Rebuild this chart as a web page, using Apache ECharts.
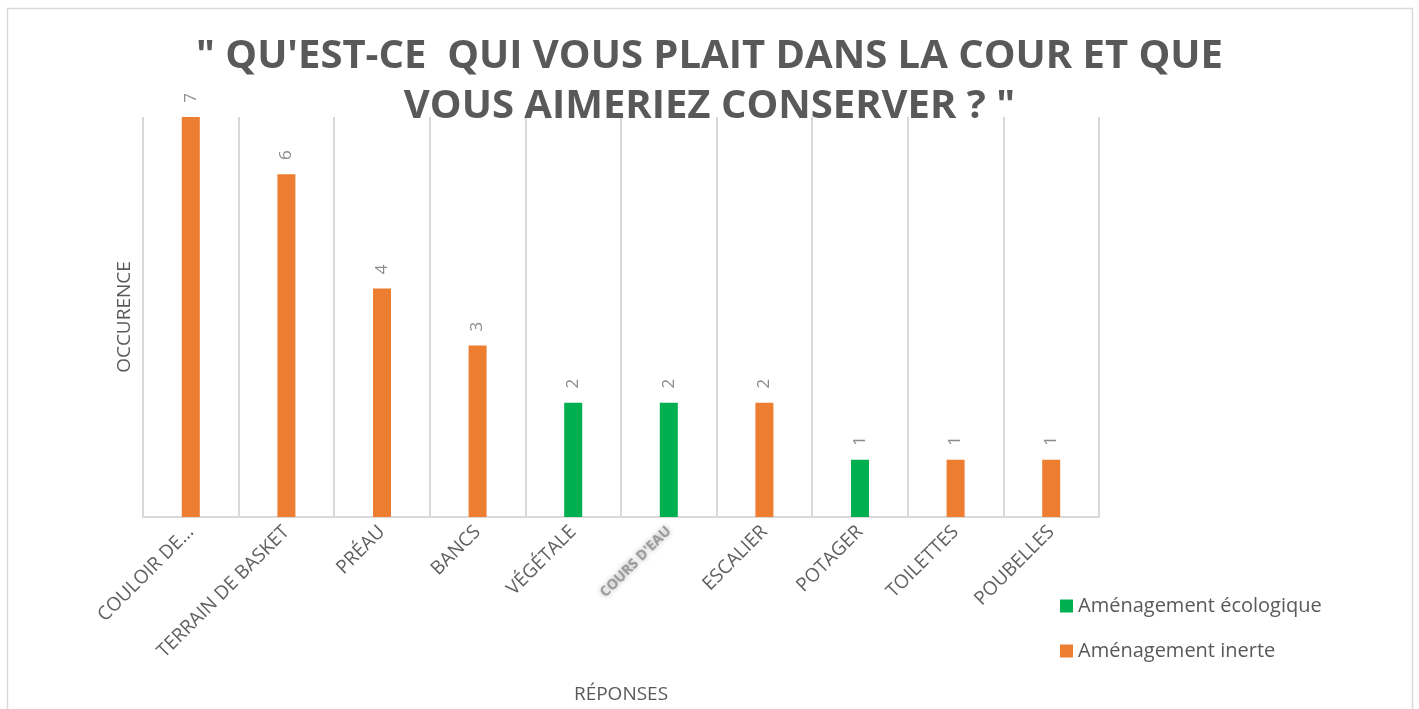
<!DOCTYPE html>
<html>
<head>
<meta charset="utf-8">
<script src="https://cdn.jsdelivr.net/npm/echarts@6/dist/echarts.min.js"></script>
<style>
    html, body { margin: 0; padding: 0; background: #fff; }
    #main { width: 1419px; height: 709px; }
</style>
</head>
<body>
<div id="main"></div>
<script>
// categories and values
var categories = ['COULOIR DE...', 'TERRAIN DE BASKET', 'PRÉAU', 'BANCS', 'VÉGÉTALE',
    "COURS D'EAU", 'ESCALIER', 'POTAGER', 'TOILETTES', 'POUBELLES'];
var ecolo = ['-', '-', '-', '-', 2, 2, '-', 1, '-', '-'];
var inerte = [7, 6, 4, 3, '-', '-', 2, '-', 1, 1];

var grey = '#595959';

var barLabel = {
    show: true,
    position: 'top',
    distance: 19,
    rotate: 90,
    align: 'center',
    verticalAlign: 'middle',
    color: '#8c8c8c',
    fontSize: 17,
    fontFamily: 'Open Sans'
};

var option = {
    backgroundColor: '#fff',
    animation: false,
    title: {
        text: '" QU\'EST-CE  QUI VOUS PLAIT DANS LA COUR ET QUE\nVOUS AIMERIEZ CONSERVER ? "',
        left: 'center',
        top: 27,
        textStyle: {
            color: grey,
            fontSize: 40,
            fontWeight: 'bold',
            fontFamily: 'Open Sans',
            lineHeight: 50
        }
    },
    legend: {
        orient: 'vertical',
        left: 1055,
        top: 591,
        itemWidth: 13,
        itemHeight: 13,
        itemGap: 25,
        icon: 'rect',
        textStyle: { color: grey, fontSize: 20, fontFamily: 'Open Sans' },
        data: ['Aménagement écologique', 'Aménagement inerte']
    },
    grid: { left: 143, right: 320, top: 117, bottom: 190 },
    xAxis: {
        type: 'category',
        data: categories,
        name: 'RÉPONSES',
        nameLocation: 'middle',
        nameGap: 168,
        nameTextStyle: { color: grey, fontSize: 19, fontFamily: 'Open Sans' },
        axisLine: { lineStyle: { color: '#d9d9d9', width: 2 } },
        axisTick: { show: false },
        splitLine: { show: true, lineStyle: { color: '#d9d9d9', width: 2 } },
        axisLabel: {
            rotate: 45,
            margin: 12,
            interval: 0,
            color: '#606060',
            fontSize: 19,
            fontFamily: 'Open Sans',
            formatter: function (v) {
                if (v === "COURS D'EAU") return '{blur|' + v + '}';
                return v;
            },
            rich: {
                blur: {
                    color: '#9a9a9a',
                    fontSize: 14,
                    fontWeight: 'bold',
                    fontFamily: 'Open Sans',
                    textShadowColor: 'rgba(0,0,0,0.35)',
                    textShadowBlur: 5
                }
            }
        }
    },
    yAxis: {
        type: 'value',
        min: 0,
        max: 7,
        name: 'OCCURENCE',
        nameLocation: 'middle',
        nameGap: 9,
        nameTextStyle: { color: grey, fontSize: 19, fontFamily: 'Open Sans' },
        axisLine: { show: false },
        axisTick: { show: false },
        axisLabel: { show: false },
        splitLine: { show: false }
    },
    series: [
        {
            name: 'Aménagement écologique',
            type: 'bar',
            stack: 'tot',
            barWidth: 18,
            data: ecolo,
            itemStyle: { color: '#00b050' },
            label: barLabel
        },
        {
            name: 'Aménagement inerte',
            type: 'bar',
            stack: 'tot',
            barWidth: 18,
            data: inerte,
            itemStyle: { color: '#ed7d31' },
            label: barLabel
        }
    ],
    graphic: [
        {
            type: 'rect',
            shape: { x: 7.5, y: 8.5, width: 1405, height: 720 },
            style: { fill: 'none', stroke: '#d9d9d9', lineWidth: 1.5 }
        }
    ]
};

var myChart = echarts.init(document.getElementById('main'));
myChart.setOption(option);
</script>
</body>
</html>
